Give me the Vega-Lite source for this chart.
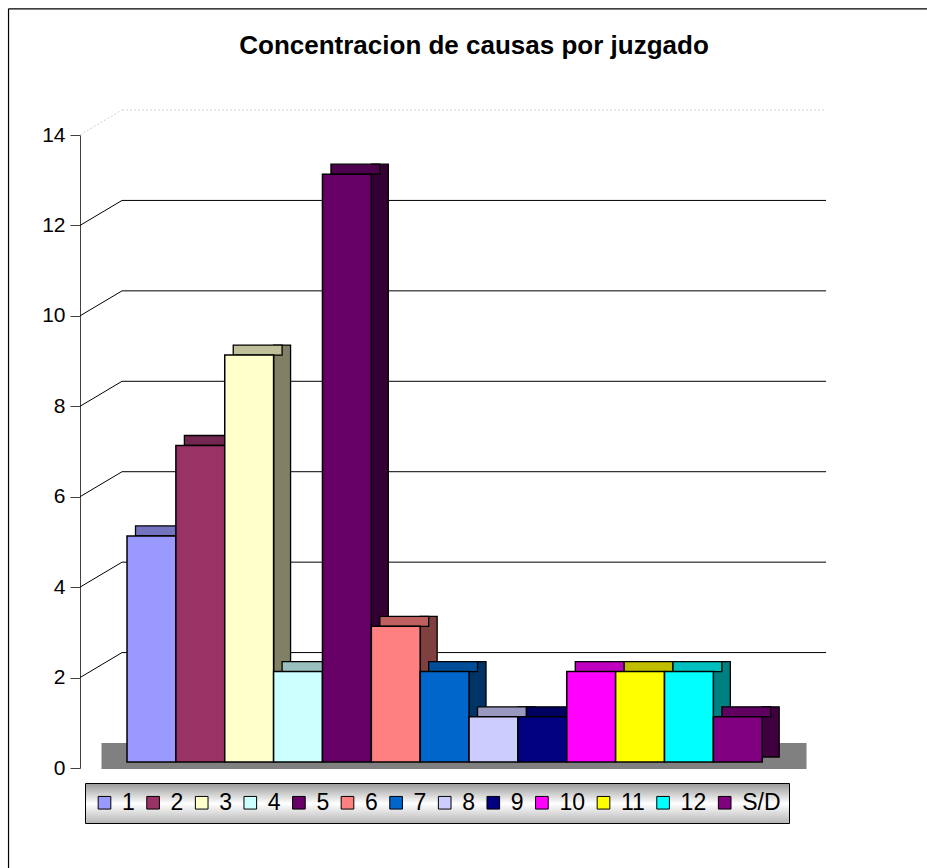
{
  "$schema": "https://vega.github.io/schema/vega-lite/v6.json",
  "autosize": {"type": "none"},
  "padding": {"left": 80, "top": 135, "right": 117, "bottom": 100},
  "width": 730,
  "height": 633,
  "background": "white",
  "title": {
    "text": "Concentracion de causas por juzgado",
    "font": "Liberation Sans",
    "fontSize": 26,
    "fontWeight": "bold",
    "color": "black",
    "anchor": "middle",
    "frame": "group",
    "dx": 29,
    "offset": -51
  },
  "datasets": {
    "causas": [
      {"j": "1", "n": 5},
      {"j": "2", "n": 7},
      {"j": "3", "n": 9},
      {"j": "4", "n": 2},
      {"j": "5", "n": 13},
      {"j": "6", "n": 3},
      {"j": "7", "n": 2},
      {"j": "8", "n": 1},
      {"j": "9", "n": 1},
      {"j": "10", "n": 2},
      {"j": "11", "n": 2},
      {"j": "12", "n": 2},
      {"j": "S/D", "n": 1}
    ],
    "grid": [{"g": 2}, {"g": 4}, {"g": 6}, {"g": 8}, {"g": 10}, {"g": 12}],
    "one": [{}]
  },
  "data": {"name": "causas"},
  "layer": [
    {
      "data": {"name": "one"},
      "mark": {"type": "rule", "color": "black", "strokeWidth": 1.2},
      "encoding": {
        "x": {"datum": "1", "type": "nominal", "bandPosition": -2.425, "axis": null,
              "scale": {"type": "band", "domain": ["1","2","3","4","5","6","7","8","9","10","11","12","S/D"], "paddingInner": 0, "paddingOuter": 0.97, "align": 0.496}},
        "y": {"datum": -3, "type": "quantitative", "scale": {"domain": [0, 14], "nice": false, "zero": false},
              "axis": {"orient": "left", "values": [0, 2, 4, 6, 8, 10, 12, 14], "domain": true, "domainColor": "#404040", "grid": false,
                       "ticks": true, "tickSize": 10, "tickColor": "#404040", "labelFont": "Liberation Sans", "labelFontSize": 21,
                       "labelColor": "black", "labelPadding": 5, "title": null}},
        "y2": {"datum": 16.79}
      }
    },
    {
      "data": {"name": "one"},
      "mark": {"type": "rule", "color": "black", "strokeWidth": 1.2},
      "encoding": {
        "x": {"datum": "1", "type": "nominal", "bandPosition": -2.425, "axis": null,
              "scale": {"type": "band", "domain": ["1","2","3","4","5","6","7","8","9","10","11","12","S/D"], "paddingInner": 0, "paddingOuter": 0.97, "align": 0.496}},
        "x2": {"datum": "S/D", "bandPosition": 4.54},
        "y": {"datum": 16.79, "type": "quantitative", "scale": {"domain": [0, 14], "nice": false, "zero": false},
              "axis": {"orient": "left", "values": [0, 2, 4, 6, 8, 10, 12, 14], "domain": true, "domainColor": "#404040", "grid": false,
                       "ticks": true, "tickSize": 10, "tickColor": "#404040", "labelFont": "Liberation Sans", "labelFontSize": 21,
                       "labelColor": "black", "labelPadding": 5, "title": null}}
      }
    },
    {
      "data": {"name": "one"},
      "mark": {"type": "rect", "color": "#808080", "yOffset": 1, "y2Offset": -25},
      "encoding": {
        "x": {"datum": "1", "type": "nominal", "bandPosition": -0.522, "axis": null,
              "scale": {"type": "band", "domain": ["1","2","3","4","5","6","7","8","9","10","11","12","S/D"], "paddingInner": 0, "paddingOuter": 0.97, "align": 0.496}},
        "x2": {"datum": "S/D", "bandPosition": 1.907},
        "y": {"datum": 0, "type": "quantitative", "scale": {"domain": [0, 14], "nice": false, "zero": false},
              "axis": {"orient": "left", "values": [0, 2, 4, 6, 8, 10, 12, 14], "domain": true, "domainColor": "#404040", "grid": false,
                       "ticks": true, "tickSize": 10, "tickColor": "#404040", "labelFont": "Liberation Sans", "labelFontSize": 21,
                       "labelColor": "black", "labelPadding": 5, "title": null}},
        "y2": {"datum": 0}
      }
    },
    {
      "data": {"name": "grid"},
      "mark": {"type": "rule", "color": "black", "strokeWidth": 1, "yOffset": -25},
      "encoding": {
        "x": {"datum": "1", "type": "nominal", "bandPosition": -0.102, "axis": null,
              "scale": {"type": "band", "domain": ["1","2","3","4","5","6","7","8","9","10","11","12","S/D"], "paddingInner": 0, "paddingOuter": 0.97, "align": 0.496}},
        "x2": {"datum": "S/D", "bandPosition": 2.307},
        "y": {"field": "g", "type": "quantitative", "scale": {"domain": [0, 14], "nice": false, "zero": false},
              "axis": {"orient": "left", "values": [0, 2, 4, 6, 8, 10, 12, 14], "domain": true, "domainColor": "#404040", "grid": false,
                       "ticks": true, "tickSize": 10, "tickColor": "#404040", "labelFont": "Liberation Sans", "labelFontSize": 21,
                       "labelColor": "black", "labelPadding": 5, "title": null}}
      }
    },
    {
      "data": {"name": "grid"},
      "mark": {"type": "rule", "color": "black", "strokeWidth": 1, "y2Offset": -25},
      "encoding": {
        "x": {"datum": "1", "type": "nominal", "bandPosition": -0.962, "axis": null,
              "scale": {"type": "band", "domain": ["1","2","3","4","5","6","7","8","9","10","11","12","S/D"], "paddingInner": 0, "paddingOuter": 0.97, "align": 0.496}},
        "x2": {"datum": "1", "bandPosition": -0.102},
        "y": {"field": "g", "type": "quantitative", "scale": {"domain": [0, 14], "nice": false, "zero": false},
              "axis": {"orient": "left", "values": [0, 2, 4, 6, 8, 10, 12, 14], "domain": true, "domainColor": "#404040", "grid": false,
                       "ticks": true, "tickSize": 10, "tickColor": "#404040", "labelFont": "Liberation Sans", "labelFontSize": 21,
                       "labelColor": "black", "labelPadding": 5, "title": null}},
        "y2": {"field": "g"}
      }
    },
    {
      "data": {"name": "one"},
      "mark": {"type": "rule", "color": "#d0d0d0", "strokeWidth": 1, "strokeDash": [2, 2], "yOffset": -25},
      "encoding": {
        "x": {"datum": "1", "type": "nominal", "bandPosition": -0.102, "axis": null,
              "scale": {"type": "band", "domain": ["1","2","3","4","5","6","7","8","9","10","11","12","S/D"], "paddingInner": 0, "paddingOuter": 0.97, "align": 0.496}},
        "x2": {"datum": "S/D", "bandPosition": 2.307},
        "y": {"datum": 14, "type": "quantitative", "scale": {"domain": [0, 14], "nice": false, "zero": false},
              "axis": {"orient": "left", "values": [0, 2, 4, 6, 8, 10, 12, 14], "domain": true, "domainColor": "#404040", "grid": false,
                       "ticks": true, "tickSize": 10, "tickColor": "#404040", "labelFont": "Liberation Sans", "labelFontSize": 21,
                       "labelColor": "black", "labelPadding": 5, "title": null}}
      }
    },
    {
      "data": {"name": "one"},
      "mark": {"type": "rule", "color": "#d0d0d0", "strokeWidth": 1, "strokeDash": [2, 2], "y2Offset": -25},
      "encoding": {
        "x": {"datum": "1", "type": "nominal", "bandPosition": -0.962, "axis": null,
              "scale": {"type": "band", "domain": ["1","2","3","4","5","6","7","8","9","10","11","12","S/D"], "paddingInner": 0, "paddingOuter": 0.97, "align": 0.496}},
        "x2": {"datum": "1", "bandPosition": -0.102},
        "y": {"datum": 14, "type": "quantitative", "scale": {"domain": [0, 14], "nice": false, "zero": false},
              "axis": {"orient": "left", "values": [0, 2, 4, 6, 8, 10, 12, 14], "domain": true, "domainColor": "#404040", "grid": false,
                       "ticks": true, "tickSize": 10, "tickColor": "#404040", "labelFont": "Liberation Sans", "labelFontSize": 21,
                       "labelColor": "black", "labelPadding": 5, "title": null}},
        "y2": {"datum": 14}
      }
    },
    {
      "mark": {"type": "bar", "width": 17, "xOffset": 32.9, "yOffset": -16, "y2Offset": -11, "stroke": "black", "strokeWidth": 1.3},
      "encoding": {
        "x": {"field": "j", "type": "nominal", "axis": null,
              "scale": {"type": "band", "domain": ["1","2","3","4","5","6","7","8","9","10","11","12","S/D"], "paddingInner": 0, "paddingOuter": 0.97, "align": 0.496}},
        "y": {"field": "n", "type": "quantitative", "scale": {"domain": [0, 14], "nice": false, "zero": false},
              "axis": {"orient": "left", "values": [0, 2, 4, 6, 8, 10, 12, 14], "domain": true, "domainColor": "#404040", "grid": false,
                       "ticks": true, "tickSize": 10, "tickColor": "#404040", "labelFont": "Liberation Sans", "labelFontSize": 21,
                       "labelColor": "black", "labelPadding": 5, "title": null}},
        "y2": {"datum": 0},
        "color": {"field": "j", "type": "nominal", "legend": null,
                  "scale": {"domain": ["1","2","3","4","5","6","7","8","9","10","11","12","S/D"],
                            "range": ["#4D4D80","#4D1A33","#808066","#668080","#330033","#804040","#003366","#666680","#000040","#800080","#808000","#008080","#400040"]}}
      }
    },
    {
      "mark": {"type": "bar", "xOffset": 8.5, "yOffset": -16, "y2Offset": -6, "stroke": "black", "strokeWidth": 1.3},
      "encoding": {
        "x": {"field": "j", "type": "nominal", "axis": null,
              "scale": {"type": "band", "domain": ["1","2","3","4","5","6","7","8","9","10","11","12","S/D"], "paddingInner": 0, "paddingOuter": 0.97, "align": 0.496}},
        "y": {"field": "n", "type": "quantitative", "scale": {"domain": [0, 14], "nice": false, "zero": false},
              "axis": {"orient": "left", "values": [0, 2, 4, 6, 8, 10, 12, 14], "domain": true, "domainColor": "#404040", "grid": false,
                       "ticks": true, "tickSize": 10, "tickColor": "#404040", "labelFont": "Liberation Sans", "labelFontSize": 21,
                       "labelColor": "black", "labelPadding": 5, "title": null}},
        "y2": {"field": "n"},
        "color": {"field": "j", "type": "nominal", "legend": null,
                  "scale": {"domain": ["1","2","3","4","5","6","7","8","9","10","11","12","S/D"],
                            "range": ["#7373BF","#732650","#BFBF99","#99BFBF","#4D004D","#BF6060","#004D99","#9999BF","#000060","#BF00BF","#BFBF00","#00BFBF","#600060"]}}
      }
    },
    {
      "mark": {"type": "bar", "yOffset": -6, "y2Offset": -6, "stroke": "black", "strokeWidth": 1.5},
      "encoding": {
        "x": {"field": "j", "type": "nominal", "axis": null,
              "scale": {"type": "band", "domain": ["1","2","3","4","5","6","7","8","9","10","11","12","S/D"], "paddingInner": 0, "paddingOuter": 0.97, "align": 0.496}},
        "y": {"field": "n", "type": "quantitative",
              "scale": {"domain": [0, 14], "nice": false, "zero": false},
              "axis": {"orient": "left", "values": [0, 2, 4, 6, 8, 10, 12, 14], "domain": true, "domainColor": "#404040", "grid": false,
                       "ticks": true, "tickSize": 10, "tickColor": "#404040", "labelFont": "Liberation Sans", "labelFontSize": 21,
                       "labelColor": "black", "labelPadding": 5, "title": null}},
        "y2": {"datum": 0},
        "color": {"field": "j", "type": "nominal",
                  "scale": {"domain": ["1","2","3","4","5","6","7","8","9","10","11","12","S/D"],
                            "range": ["#9999FF","#993366","#FFFFCC","#CCFFFF","#660066","#FF8080","#0066CC","#CCCCFF","#000080","#FF00FF","#FFFF00","#00FFFF","#800080"]},
                  "legend": {
                    "orient": "none", "legendX": 5, "legendY": 648, "direction": "horizontal", "columns": 13,
                    "title": null, "symbolType": "square", "symbolSize": 160, "symbolStrokeColor": "black", "symbolStrokeWidth": 1,
                    "labelFont": "Liberation Sans", "labelFontSize": 23, "labelColor": "black", "labelOffset": 6,
                    "columnPadding": 6.6, "padding": 8, "strokeColor": "black",
                    "encode": {"legend": {"update": {
                      "fill": {"value": {"gradient": "linear", "x1": 0, "y1": 0, "x2": 0, "y2": 1,
                                         "stops": [{"offset": 0, "color": "#999999"}, {"offset": 0.5, "color": "#ffffff"}, {"offset": 1, "color": "#b5b5b5"}]}},
                      "strokeWidth": {"value": 1}}}}
                  }}
      }
    }
  ],
  "resolve": {"scale": {"color": "independent"}},
  "config": {"view": {"stroke": null}, "font": "Liberation Sans"}
}
